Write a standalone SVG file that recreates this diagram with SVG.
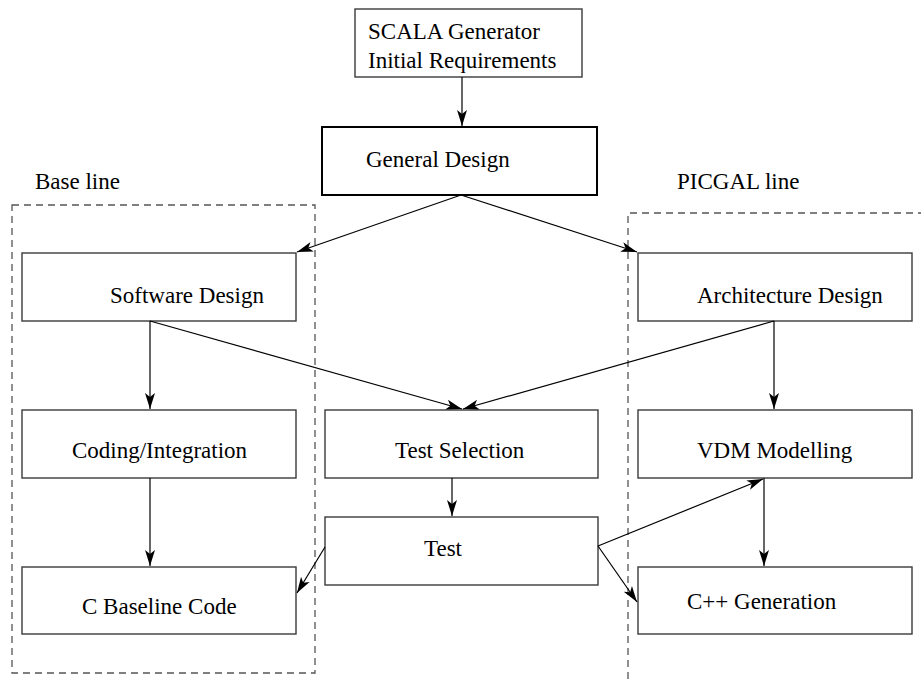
<svg xmlns="http://www.w3.org/2000/svg" width="921" height="679" viewBox="0 0 921 679">
  <style>
    .box { fill: #ffffff; stroke: #3a3a3a; stroke-width: 1.4; }
    .box-strong { fill: #ffffff; stroke: #000000; stroke-width: 2; }
    .lane { fill: none; stroke: #555555; stroke-width: 1.3; stroke-dasharray: 7 5; }
    .label { font-family: 'Liberation Serif', 'DejaVu Serif', serif; font-size: 23px; fill: #000000; }
    .edge { fill: none; stroke: #000000; stroke-width: 1.2; marker-end: url(#arrow); }
  </style>
  <defs>
    <marker id="arrow" markerUnits="userSpaceOnUse" markerWidth="18" markerHeight="12" refX="16" refY="6" orient="auto">
      <path d="M0,1 L16,6 L0,11 L4,6 Z" fill="#000000"/>
    </marker>
  </defs>

  <!-- swim lanes -->
  <g id="lane-base">
    <rect class="lane" x="12" y="205" width="303" height="468"/>
    <text class="label" font-family="Liberation Serif, serif" x="35" y="189">Base line</text>
  </g>
  <g id="lane-picgal">
    <path class="lane" d="M628,679 L628,213 L921,213"/>
    <text class="label" font-family="Liberation Serif, serif" x="677" y="189">PICGAL line</text>
  </g>

  <!-- nodes -->
  <g id="scala-requirements">
    <rect class="box" x="355" y="9" width="227" height="68"/>
    <text class="label" x="368" y="39">SCALA Generator</text>
    <text class="label" x="368" y="68">Initial Requirements</text>
  </g>
  <g id="general-design">
    <rect class="box-strong" x="322" y="127" width="275" height="68"/>
    <text class="label" x="366" y="167">General Design</text>
  </g>
  <g id="software-design">
    <rect class="box" x="22" y="253" width="274" height="68"/>
    <text class="label" x="110" y="303">Software Design</text>
  </g>
  <g id="architecture-design">
    <rect class="box" x="638" y="253" width="274" height="68"/>
    <text class="label" x="697" y="303">Architecture Design</text>
  </g>
  <g id="coding-integration">
    <rect class="box" x="22" y="410" width="274" height="68"/>
    <text class="label" x="72" y="458">Coding/Integration</text>
  </g>
  <g id="test-selection">
    <rect class="box" x="325" y="410" width="273" height="68"/>
    <text class="label" x="395" y="458">Test Selection</text>
  </g>
  <g id="vdm-modelling">
    <rect class="box" x="638" y="410" width="274" height="68"/>
    <text class="label" x="697" y="458">VDM Modelling</text>
  </g>
  <g id="test">
    <rect class="box" x="325" y="517" width="273" height="68"/>
    <text class="label" x="424" y="556">Test</text>
  </g>
  <g id="c-baseline-code">
    <rect class="box" x="22" y="567" width="274" height="67"/>
    <text class="label" x="82" y="614">C Baseline Code</text>
  </g>
  <g id="cpp-generation">
    <rect class="box" x="638" y="567" width="274" height="67"/>
    <text class="label" x="687" y="609">C++ Generation</text>
  </g>

  <!-- connectors -->
  <g id="connectors">
    <line class="edge" x1="462" y1="77" x2="462" y2="126"/>
    <line class="edge" x1="461" y1="195" x2="297" y2="252"/>
    <line class="edge" x1="461" y1="195" x2="637" y2="252"/>
    <line class="edge" x1="150" y1="321" x2="150" y2="409"/>
    <line class="edge" x1="150" y1="321" x2="462" y2="409"/>
    <line class="edge" x1="774" y1="321" x2="463" y2="409"/>
    <line class="edge" x1="774" y1="321" x2="774" y2="409"/>
    <line class="edge" x1="150" y1="478" x2="150" y2="566"/>
    <line class="edge" x1="452" y1="478" x2="452" y2="516"/>
    <line class="edge" x1="764" y1="478" x2="764" y2="566"/>
    <line class="edge" x1="325" y1="547" x2="297" y2="593"/>
    <line class="edge" x1="598" y1="546" x2="763" y2="479"/>
    <line class="edge" x1="598" y1="546" x2="637" y2="602"/>
  </g>
</svg>
